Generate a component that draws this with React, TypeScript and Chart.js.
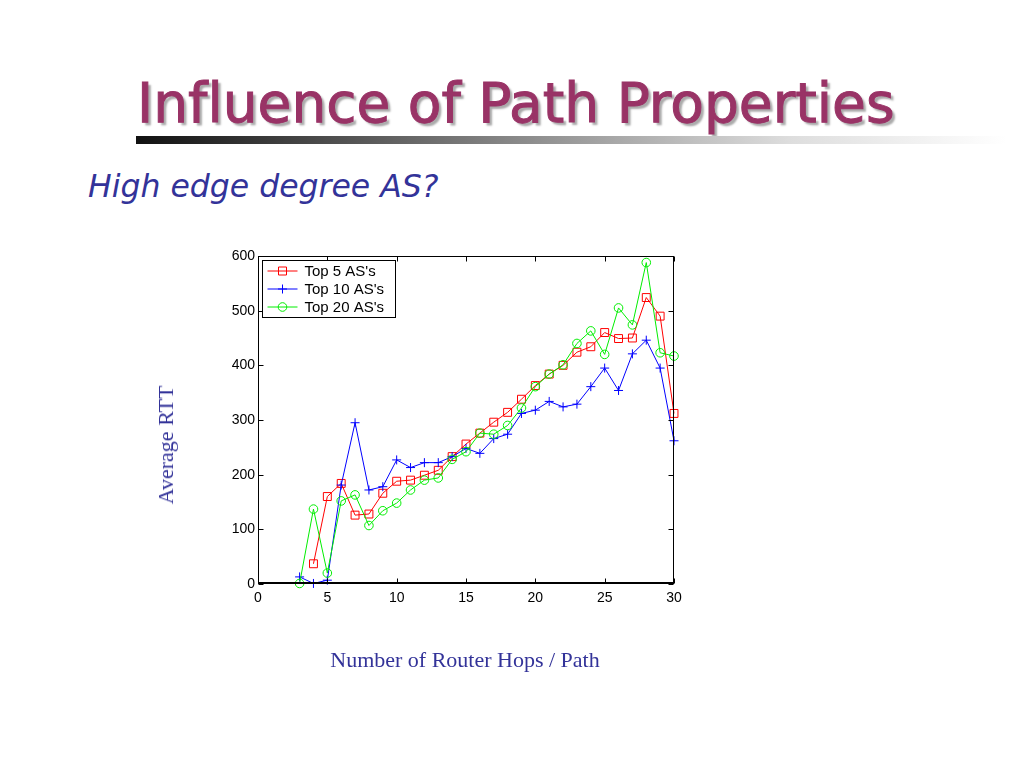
import React, { useEffect, useRef } from 'react';
import { Chart, registerables } from 'chart.js';

Chart.register(...registerables);

const hops = [3, 4, 5, 6, 7, 8, 9, 10, 11, 12, 13, 14, 15, 16, 17, 18, 19, 20, 21, 22, 23, 24, 25, 26, 27, 28, 29, 30];
const top5 = [null, 37, 160, 184, 126, 128, 166, 188, 190, 199, 208, 233, 256, 276, 296, 314, 338, 363, 384, 400, 424, 434, 460, 449, 450, 524, 490, 312];
const top10 = [13, 1, 7, 181, 295, 172, 178, 227, 213, 222, 222, 233, 248, 239, 266, 274, 312, 318, 334, 324, 329, 361, 395, 354, 421, 446, 395, 262];
const top20 = [1, 137, 20, 152, 163, 107, 134, 148, 172, 190, 194, 228, 242, 276, 274, 290, 322, 361, 384, 401, 440, 463, 420, 505, 474, 588, 423, 417];
const xTicks = [0, 5, 10, 15, 20, 25, 30];
const yTicks = [0, 100, 200, 300, 400, 500, 600];
const seriesNames = ["Top 5 AS's", "Top 10 AS's", "Top 20 AS's"];
const seriesColors = ['#ff0000', '#0000ff', '#00ee00'];
const seriesMarkers = ['rect', 'cross', 'circle'];

const legendFont = '15px "Liberation Sans", Arial, Helvetica, sans-serif';

function drawMarker(ctx: CanvasRenderingContext2D, kind: string, x: number, y: number) {
  ctx.beginPath();
  if (kind === 'rect') {
    ctx.rect(x - 4, y - 4, 8, 8);
  } else if (kind === 'circle') {
    ctx.arc(x, y, 4.3, 0, Math.PI * 2);
  } else {
    ctx.moveTo(x - 4.5, y);
    ctx.lineTo(x + 4.5, y);
    ctx.moveTo(x, y - 4.5);
    ctx.lineTo(x, y + 4.5);
  }
  ctx.stroke();
}

const framePlugin = {
  id: 'matlabFrame',
  afterDraw(chart: any) {
    const { ctx, chartArea: a, scales } = chart;
    ctx.save();
    ctx.strokeStyle = '#000';
    ctx.lineWidth = 1;
    const L = Math.round(a.left) + 0.5;
    const R = Math.round(a.right) - 0.5;
    const T = Math.round(a.top) + 0.5;
    const B = Math.round(a.bottom) - 0.5;
    ctx.strokeRect(L, T, R - L, B - T);
    ctx.beginPath();
    xTicks.forEach((v) => {
      const px = Math.round(scales.x.getPixelForValue(v)) + 0.5;
      ctx.moveTo(px, B);
      ctx.lineTo(px, B - 5);
      ctx.moveTo(px, T);
      ctx.lineTo(px, T + 5);
    });
    yTicks.forEach((v) => {
      const py = Math.round(scales.y.getPixelForValue(v)) + 0.5;
      ctx.moveTo(L, py);
      ctx.lineTo(L + 5, py);
      ctx.moveTo(R, py);
      ctx.lineTo(R - 5, py);
    });
    ctx.stroke();
    // slightly heavier bottom axis line
    ctx.lineWidth = 2;
    ctx.beginPath();
    ctx.moveTo(L, Math.round(a.bottom) - 1);
    ctx.lineTo(R, Math.round(a.bottom) - 1);
    ctx.stroke();
    ctx.lineWidth = 1;

    // legend
    const lx = Math.round(a.left) + 4.5;
    const ly = Math.round(a.top) + 4.5;
    const lw = 133;
    const lh = 57;
    ctx.fillStyle = '#fff';
    ctx.fillRect(lx, ly, lw, lh);
    ctx.strokeStyle = '#000';
    ctx.strokeRect(lx, ly, lw, lh);
    ctx.font = legendFont;
    ctx.textBaseline = 'middle';
    ctx.textAlign = 'left';
    seriesNames.forEach((name, i) => {
      const cy = ly + 10.5 + i * 18;
      ctx.strokeStyle = seriesColors[i];
      ctx.beginPath();
      ctx.moveTo(lx + 5, cy);
      ctx.lineTo(lx + 35, cy);
      ctx.stroke();
      drawMarker(ctx, seriesMarkers[i], lx + 20, cy);
      ctx.fillStyle = '#000';
      ctx.fillText(name, lx + 42, cy + 1);
    });
    ctx.restore();
  },
};

export default function App() {
  const ref = useRef<HTMLCanvasElement | null>(null);

  useEffect(() => {
    if (!ref.current) return;
    const seriesValues = [top5, top10, top20];
    const chart = new Chart(ref.current, {
      type: 'line',
      data: {
        datasets: seriesValues.map((vals, i) => ({
          label: seriesNames[i],
          data: hops.map((h, j) => ({ x: h, y: vals[j] })),
          borderColor: seriesColors[i],
          borderWidth: 1,
          pointStyle: seriesMarkers[i] as any,
          pointRadius: seriesMarkers[i] === 'rect' ? 5.6 : seriesMarkers[i] === 'cross' ? 4.5 : 4.3,
          pointBorderColor: seriesColors[i],
          pointBackgroundColor: 'rgba(0,0,0,0)',
          pointBorderWidth: 1,
          tension: 0,
          fill: false,
          clip: false as any,
          order: 2 - i,
        })),
      },
      options: {
        responsive: false,
        animation: false,
        events: [],
        layout: { padding: { left: 208, right: 350, top: 256, bottom: 154 } },
        plugins: { legend: { display: false }, tooltip: { enabled: false } },
        scales: {
          x: {
            type: 'linear',
            min: 0,
            max: 30,
            afterBuildTicks: (s: any) => {
              s.ticks = xTicks.map((v) => ({ value: v }));
            },
            afterFit: (s: any) => {
              s.height = 30;
            },
            grid: { display: false },
            border: { display: false },
            ticks: { color: '#000', font: { family: '"Liberation Sans", Arial, sans-serif', size: 14 }, padding: -2, maxRotation: 0 },
          },
          y: {
            type: 'linear',
            min: 0,
            max: 600,
            afterBuildTicks: (s: any) => {
              s.ticks = yTicks.map((v) => ({ value: v }));
            },
            afterFit: (s: any) => {
              s.width = 50;
            },
            grid: { display: false },
            border: { display: false },
            ticks: { color: '#000', font: { family: '"Liberation Sans", Arial, sans-serif', size: 14 }, padding: -5 },
          },
        },
      },
      plugins: [framePlugin],
    });
    return () => chart.destroy();
  }, []);

  return (
    <div style={{ position: 'absolute', left: 0, top: 0, width: 1024, height: 768, background: '#fff', overflow: 'hidden' }}>
      <div
        style={{
          position: 'absolute',
          left: 137,
          top: 76,
          fontFamily: '"DejaVu Sans", Verdana, sans-serif',
          fontSize: 55,
          lineHeight: 1,
          color: '#993366',
          whiteSpace: 'nowrap',
          fontVariantLigatures: 'none',
          WebkitTextStroke: '1px #993366',
          textShadow: '3px 3px 2px #aaaaaa',
        }}
      >
        Influence of Path Properties
      </div>
      <div
        style={{
          position: 'absolute',
          left: 136,
          top: 136,
          width: 870,
          height: 8,
          background: 'linear-gradient(to right, #111111 0%, #555555 25%, #9a9a9a 50%, #dddddd 75%, #ffffff 100%)',
        }}
      />
      <div
        style={{
          position: 'absolute',
          left: 88,
          top: 171,
          fontFamily: '"DejaVu Sans", Verdana, sans-serif',
          fontStyle: 'italic',
          fontSize: 31.5,
          lineHeight: 1,
          color: '#333399',
          whiteSpace: 'nowrap',
        }}
      >
        High edge degree AS?
      </div>
      <canvas ref={ref} width={1024} height={768} style={{ position: 'absolute', left: 0, top: 0 }} />
      <div
        style={{
          position: 'absolute',
          left: 166,
          top: 445,
          transform: 'translate(-50%, -50%) rotate(-90deg)',
          fontFamily: '"Liberation Serif", "Times New Roman", serif',
          fontSize: 22,
          lineHeight: 1,
          color: '#333399',
          whiteSpace: 'nowrap',
        }}
      >
        Average RTT
      </div>
      <div
        style={{
          position: 'absolute',
          left: 465,
          top: 660,
          transform: 'translate(-50%, -50%)',
          fontFamily: '"Liberation Serif", "Times New Roman", serif',
          fontSize: 22,
          lineHeight: 1,
          color: '#333399',
          whiteSpace: 'nowrap',
        }}
      >
        Number of Router Hops / Path
      </div>
    </div>
  );
}
